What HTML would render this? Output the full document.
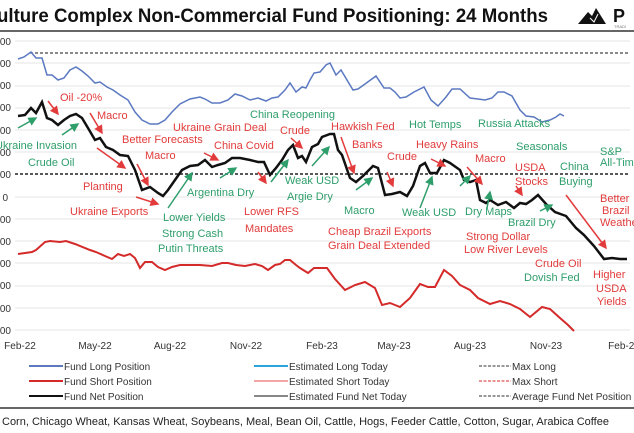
<!DOCTYPE html>
<html><head><meta charset="utf-8"><style>
html,body{margin:0;padding:0;background:#fff;}
body{width:634px;height:433px;overflow:hidden;position:relative;font-family:"Liberation Sans",sans-serif;}
svg{position:absolute;left:0;top:0;}
</style></head><body>
<svg width="634" height="433" viewBox="0 0 634 433" font-family="Liberation Sans, sans-serif">
<defs>
<marker id="ar" markerWidth="6" markerHeight="6" refX="5" refY="3" orient="auto"><path d="M0,0 L6,3 L0,6 z" fill="#e23b3b"/></marker>
<marker id="ag" markerWidth="6" markerHeight="6" refX="5" refY="3" orient="auto"><path d="M0,0 L6,3 L0,6 z" fill="#2e9e6b"/></marker>
</defs>
<text x="-3" y="22" font-size="19" font-weight="bold" fill="#111" textLength="551" lengthAdjust="spacingAndGlyphs">ulture Complex Non-Commercial Fund Positioning: 24 Months</text>
<path d="M578,24 L588,12 L592,16 L596,8 L606,24 z" fill="#111"/>
<path d="M590,18 L594,22 L598,14" stroke="#fff" stroke-width="1" fill="none"/>
<text x="613" y="22" font-size="18" font-weight="bold" fill="#111">P</text>
<text x="614" y="28" font-size="4" fill="#777">TRADI</text>
<line x1="0" y1="31" x2="634" y2="31" stroke="#333" stroke-width="1.5"/>
<g stroke="#e4e4e4" stroke-width="1">
<line x1="15" y1="41" x2="630" y2="41"/><line x1="15" y1="63" x2="630" y2="63"/><line x1="15" y1="86" x2="630" y2="86"/><line x1="15" y1="108" x2="630" y2="108"/><line x1="15" y1="130" x2="630" y2="130"/><line x1="15" y1="152" x2="630" y2="152"/><line x1="15" y1="197" x2="630" y2="197"/><line x1="15" y1="219" x2="630" y2="219"/><line x1="15" y1="241" x2="630" y2="241"/><line x1="15" y1="263" x2="630" y2="263"/><line x1="15" y1="286" x2="630" y2="286"/><line x1="15" y1="308" x2="630" y2="308"/><line x1="15" y1="330" x2="630" y2="330"/>
</g>
<g font-size="10" fill="#333" text-anchor="end">
<text x="11" y="45">00</text><text x="11" y="67">00</text><text x="11" y="89">00</text><text x="11" y="111">00</text><text x="11" y="134">00</text><text x="11" y="156">00</text><text x="11" y="178">00</text><text x="8" y="201">0</text><text x="11" y="223">00</text><text x="11" y="245">00</text><text x="11" y="267">00</text><text x="11" y="289">00</text><text x="11" y="312">00</text><text x="11" y="334">00</text>
</g>
<line x1="30" y1="53" x2="630" y2="53" stroke="#444" stroke-width="1.2" stroke-dasharray="3,2"/>
<line x1="15" y1="174" x2="630" y2="174" stroke="#222" stroke-width="1.5" stroke-dasharray="3,2"/>
<polyline fill="none" stroke="#5b79c0" stroke-width="1.5" points="18,59 24,57 31,52 36,58 42,58 47,75 52,75 58,80 64,78 70,70 76,67 82,71 88,76 95,83 100,82 107,87 113,90 120,95 128,100 135,112 142,120 150,124 158,124 165,120 172,112 180,104 190,99 200,97 205,99 212,103 220,103 228,100 235,94 242,96 250,100 258,98 266,101 272,98 278,97 285,90 290,83 296,92 302,87 306,88 310,80 314,73 320,72 326,65 330,63 336,75 341,70 353,90 358,89 365,84 376,76 384,88 390,88 395,92 400,98 406,97 414,92 424,87 431,100 438,106 446,97 452,89 460,89 470,98 478,99 485,100 492,98 498,92 504,92 512,96 520,110 526,116 534,117 542,122 550,120 556,117 560,114 564,116"/>
<polyline fill="none" stroke="#111" stroke-width="2.5" points="18,116 25,115 31,108 36,113 42,102 47,118 52,120 58,125 64,120 70,116 76,114 82,118 88,128 95,140 100,138 106,147 113,150 120,155 128,156 135,170 142,190 150,187 158,193 163,196 168,190 175,180 182,170 190,166 198,165 205,160 212,167 218,165 225,163 232,158 240,158 250,160 258,162 264,162 270,175 276,168 282,160 288,150 293,145 298,158 302,156 306,162 312,147 318,144 322,137 330,134 334,134 338,150 342,155 350,178 356,182 363,176 373,166 378,168 385,195 392,194 400,192 407,196 413,186 420,166 425,163 430,173 437,173 444,160 450,163 460,170 464,180 470,182 476,180 480,200 486,203 490,200 498,205 506,202 514,208 520,203 526,204 532,200 538,195 546,204 555,212 566,216 576,228 584,235 594,246 604,259 612,258 620,259 627,259"/>
<polyline fill="none" stroke="#d42a2a" stroke-width="2" points="18,254 32,252 36,250 45,242 50,241 60,242 66,241 75,244 90,250 96,252 105,256 112,259 118,254 124,256 130,254 135,258 140,268 145,262 152,262 158,267 165,270 172,267 180,265 190,265 200,265 212,266 222,263 228,263 236,265 245,266 255,264 262,266 268,270 275,265 280,264 285,260 290,260 296,265 300,268 308,273 314,268 320,268 327,268 335,279 345,290 355,285 365,282 375,288 382,305 390,303 400,307 410,298 420,284 428,287 435,287 444,270 452,276 460,285 470,290 478,298 490,304 500,301 510,304 520,309 530,317 536,312 542,307 550,309 560,318 568,325 574,331"/>
<g fill="#e23b3b" font-size="11">
<text x="60" y="101">Oil -20%</text><text x="97" y="119">Macro</text><text x="122" y="143">Better Forecasts</text><text x="145" y="159">Macro</text><text x="173" y="131">Ukraine Grain Deal</text><text x="214" y="149">China Covid</text><text x="280" y="134">Crude</text><text x="83" y="190">Planting</text><text x="70" y="215">Ukraine Exports</text><text x="244" y="215">Lower RFS</text><text x="245" y="232">Mandates</text><text x="331" y="130">Hawkish Fed</text><text x="352" y="148">Banks</text><text x="387" y="160">Crude</text><text x="416" y="148">Heavy Rains</text><text x="475" y="162">Macro</text><text x="515" y="171">USDA</text><text x="515" y="185">Stocks</text><text x="328" y="235">Cheap Brazil Exports</text><text x="328" y="249">Grain Deal Extended</text><text x="466" y="240">Strong Dollar</text><text x="464" y="253">Low River Levels</text><text x="535" y="267">Crude Oil</text><text x="593" y="278">Higher</text><text x="596" y="292">USDA</text><text x="597" y="305">Yields</text><text x="600" y="202">Better</text><text x="602" y="214">Brazil</text><text x="600" y="226">Weathe</text>
</g>
<g fill="#2e9e6b" font-size="11">
<text x="-5" y="149">Ukraine Invasion</text><text x="28" y="166">Crude Oil</text><text x="187" y="196">Argentina Dry</text><text x="163" y="221">Lower Yields</text><text x="162" y="237">Strong Cash</text><text x="158" y="252">Putin Threats</text><text x="250" y="118">China Reopening</text><text x="285" y="184">Weak USD</text><text x="287" y="200">Argie Dry</text><text x="344" y="214">Macro</text><text x="409" y="128">Hot Temps</text><text x="478" y="127">Russia Attacks</text><text x="402" y="216">Weak USD</text><text x="465" y="215">Dry Maps</text><text x="516" y="150">Seasonals</text><text x="560" y="170">China</text><text x="559" y="185">Buying</text><text x="600" y="155">S&amp;P</text><text x="600" y="166">All-Tim</text><text x="508" y="226">Brazil Dry</text><text x="524" y="281">Dovish Fed</text>
</g>
<g stroke="#e23b3b" stroke-width="1.5" marker-end="url(#ar)">
<line x1="48" y1="101" x2="58" y2="114"/><line x1="90" y1="113" x2="102" y2="133"/><line x1="97" y1="148" x2="125" y2="168"/><line x1="137" y1="164" x2="148" y2="185"/><line x1="136" y1="197" x2="158" y2="204"/><line x1="204" y1="153" x2="218" y2="160"/><line x1="258" y1="172" x2="266" y2="183"/><line x1="291" y1="138" x2="302" y2="148"/><line x1="341" y1="137" x2="354" y2="173"/><line x1="387" y1="172" x2="393" y2="186"/><line x1="431" y1="159" x2="445" y2="166"/><line x1="467" y1="167" x2="482" y2="184"/><line x1="516" y1="186" x2="522" y2="195"/><line x1="566" y1="195" x2="606" y2="248"/></g>
<g stroke="#2e9e6b" stroke-width="1.5" marker-end="url(#ag)">
<line x1="18" y1="128" x2="36" y2="118"/><line x1="62" y1="135" x2="78" y2="124"/><line x1="168" y1="208" x2="192" y2="173"/><line x1="220" y1="178" x2="236" y2="168"/><line x1="271" y1="182" x2="288" y2="160"/><line x1="312" y1="166" x2="329" y2="147"/><line x1="356" y1="190" x2="372" y2="178"/><line x1="420" y1="208" x2="432" y2="177"/><line x1="460" y1="186" x2="470" y2="176"/><line x1="487" y1="208" x2="490" y2="192"/><line x1="540" y1="211" x2="552" y2="205"/></g>
<g font-size="10" fill="#333" text-anchor="middle">
<text x="20" y="349">Feb-22</text><text x="95" y="349">May-22</text><text x="170" y="349">Aug-22</text><text x="246" y="349">Nov-22</text><text x="322" y="349">Feb-23</text><text x="394" y="349">May-23</text><text x="470" y="349">Aug-23</text><text x="546" y="349">Nov-23</text><text x="624" y="349">Feb-24</text>
</g>
<g font-size="10" fill="#333">
<line x1="29" y1="366" x2="63" y2="366" stroke="#5b79c0" stroke-width="2"/><text x="64" y="370">Fund Long Position</text>
<line x1="29" y1="381" x2="63" y2="381" stroke="#d42a2a" stroke-width="2"/><text x="64" y="385">Fund Short Position</text>
<line x1="29" y1="396" x2="63" y2="396" stroke="#111" stroke-width="2"/><text x="64" y="400">Fund Net Position</text>
<line x1="254" y1="366" x2="288" y2="366" stroke="#2aa5dc" stroke-width="2"/><text x="289" y="370">Estimated Long Today</text>
<line x1="254" y1="381" x2="288" y2="381" stroke="#f4a6a6" stroke-width="2"/><text x="289" y="385">Estimated Short Today</text>
<line x1="254" y1="396" x2="288" y2="396" stroke="#888" stroke-width="2"/><text x="289" y="400">Estimated Fund Net Today</text>
<line x1="479" y1="366" x2="511" y2="366" stroke="#333" stroke-width="1" stroke-dasharray="3,1.5"/><text x="512" y="370">Max Long</text>
<line x1="479" y1="381" x2="511" y2="381" stroke="#d42a2a" stroke-width="1" stroke-dasharray="3,1.5"/><text x="512" y="385">Max Short</text>
<line x1="479" y1="396" x2="511" y2="396" stroke="#333" stroke-width="1" stroke-dasharray="3,1.5"/><text x="512" y="400">Average Fund Net Position</text>
</g>
<line x1="0" y1="408" x2="634" y2="408" stroke="#333" stroke-width="1.5"/>
<text x="2" y="425" font-size="11" fill="#222">Corn, Chicago Wheat, Kansas Wheat, Soybeans, Meal, Bean Oil, Cattle, Hogs, Feeder Cattle, Cotton, Sugar, Arabica Coffee</text>
</svg>
</body></html>
